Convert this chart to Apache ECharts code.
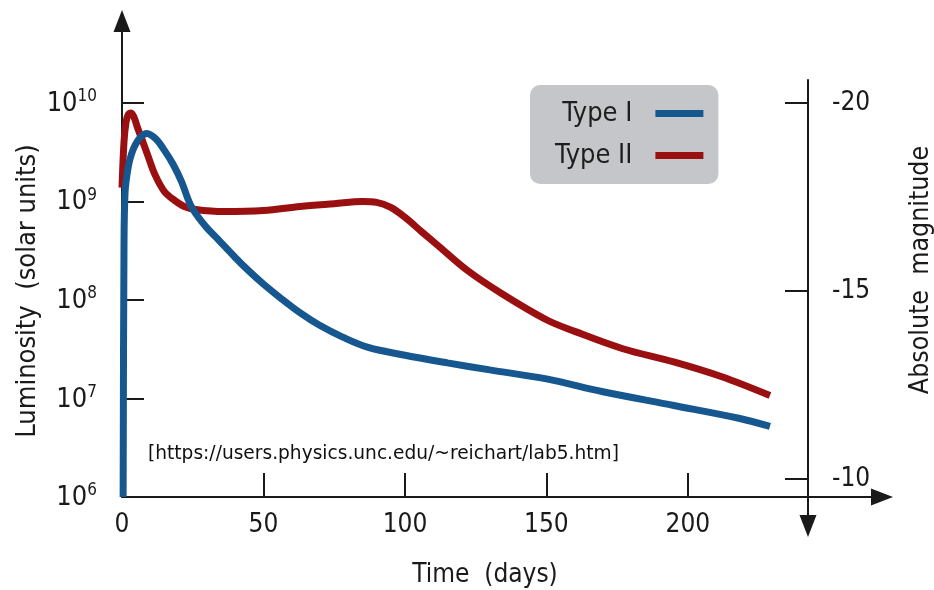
<!DOCTYPE html>
<html><head><meta charset="utf-8">
<script src="https://cdn.jsdelivr.net/npm/echarts@6/dist/echarts.min.js"></script>
<style>html,body{margin:0;padding:0;background:#fff}#c{width:934px;height:590px}</style>
</head><body><div id="c"></div><script>
// ---- data ----
const seriesNames = ['Type I', 'Type II'];
const typeIDays = [0.4, 0.7, 1.1, 2.2, 3.3, 4.6, 6.5, 8.8, 12, 15, 18, 21, 24, 27, 30, 33, 40, 45, 50, 56, 63, 70, 78, 87, 100, 115, 130, 150, 170, 195, 218, 229];
const typeILum = [1.0e6, 3.2e8, 1.26e9, 2.24e9, 3.0e9, 3.7e9, 4.5e9, 4.9e9, 4.3e9, 3.3e9, 2.4e9, 1.6e9, 9.5e8, 6.9e8, 5.4e8, 4.4e8, 2.7e8, 1.95e8, 1.45e8, 1.05e8, 7.4e7, 5.5e7, 4.2e7, 3.3e7, 2.75e7, 2.3e7, 1.95e7, 1.58e7, 1.17e7, 8.5e6, 6.3e6, 5.2e6];
const typeIIDays = [0, 0.7, 1.4, 2.2, 3.2, 4.3, 5.5, 7, 9, 11.7, 15, 18.7, 22, 26, 36, 50, 63, 75, 85, 90, 95, 100, 106, 112, 122, 134, 150, 160, 177, 195, 212, 229];
const typeIILum = [1.38e9, 4.0e9, 6.3e9, 7.6e9, 7.9e9, 7.1e9, 5.6e9, 4.3e9, 3.0e9, 1.86e9, 1.26e9, 1.02e9, 8.9e8, 8.3e8, 7.9e8, 8.1e8, 8.9e8, 9.5e8, 1.0e9, 9.8e8, 8.7e8, 6.9e8, 4.9e8, 3.5e8, 2.0e8, 1.17e8, 6.3e7, 4.8e7, 3.2e7, 2.35e7, 1.66e7, 1.07e7];
const timeTicks = [0, 50, 100, 150, 200];
const timeTickMarks = [50, 100, 150, 200];
const lumTicks = [1e6, 1e7, 1e8, 1e9, 1e10];
const magTicks = [-20, -15, -10];
const sourceText = '[https://users.physics.unc.edu/~reichart/lab5.htm]';

// ---- chart ----
const FONT = "'DejaVu Sans Condensed','DejaVu Sans',sans-serif";
const INK = '#1a1a1a';
const BLUE = '#17578f';
const RED = '#9a0f10';
const pair = (xs, ys) => xs.map((x, i) => [x, ys[i]]);
const chart = echarts.init(document.getElementById('c'));
const axisLineEnd = { onZero: false, symbol: ['none', 'triangle'], symbolSize: [17, 22], lineStyle: { color: INK, width: 2 } };
const axisLineStart = { onZero: false, symbol: ['triangle', 'none'], symbolSize: [17, 22], lineStyle: { color: INK, width: 2 } };

chart.setOption({
  animation: false,
  backgroundColor: '#fff',
  grid: [
    { left: 122, right: 52, top: 21, bottom: 93 },
    { left: 700, right: 126, top: 80, bottom: 64 }
  ],
  title: {
    text: sourceText, left: 148, top: 445, padding: 0,
    textStyle: { fontFamily: "'DejaVu Sans',sans-serif", fontSize: 18.6, fontWeight: 'normal', color: '#111' }
  },
  legend: {
    data: seriesNames, left: 530, top: 85, orient: 'vertical', align: 'right',
    backgroundColor: '#c5c6ca', borderRadius: 10, padding: [15, 15, 15, 25], itemGap: 15,
    icon: 'rect', itemWidth: 48, itemHeight: 7,
    textStyle: { fontFamily: FONT, fontSize: 27, color: '#1e1e1e', width: 101, align: 'right', padding: [0, 18, 0, 0] }
  },
  xAxis: [
    {
      type: 'value', gridIndex: 0, min: 0, max: 268.6,
      axisLine: axisLineEnd,
      axisTick: { inside: true, length: 24, customValues: timeTickMarks, lineStyle: { color: INK, width: 2 } },
      axisLabel: { customValues: timeTicks, margin: 15, fontFamily: FONT, fontSize: 26, color: INK },
      splitLine: { show: false }
    },
    { type: 'value', gridIndex: 1, show: false, min: 0, max: 1 }
  ],
  yAxis: [
    {
      type: 'log', logBase: 10, gridIndex: 0, min: 1e6, max: 6.79e10,
      axisLine: axisLineEnd,
      axisTick: { inside: true, length: 22, customValues: lumTicks, lineStyle: { color: INK, width: 2 } },
      axisLabel: {
        customValues: lumTicks, margin: 25, color: INK,
        formatter: v => '{b|10}{s|' + Math.round(Math.log10(v)) + '}',
        rich: {
          b: { fontFamily: FONT, fontSize: 27, color: INK, verticalAlign: 'bottom' },
          s: { fontFamily: FONT, fontSize: 17, color: INK, padding: [0, 0, 12, 0] }
        }
      },
      splitLine: { show: false }
    },
    {
      type: 'value', gridIndex: 1, position: 'right', inverse: true, min: -20.61, max: -8.75,
      axisLine: axisLineStart,
      axisTick: { inside: true, length: 23, customValues: magTicks, lineStyle: { color: INK, width: 2 } },
      axisLabel: { customValues: magTicks, margin: 24, fontFamily: FONT, fontSize: 26, color: INK },
      splitLine: { show: false }
    }
  ],
  graphic: [
    { type: 'text', x: 485, y: 575, style: { text: 'Time  (days)', font: "26px " + FONT, fill: INK, align: 'center', verticalAlign: 'middle' } },
    { type: 'text', x: 28, y: 291, rotation: Math.PI / 2, style: { text: 'Luminosity  (solar units)', font: "27px " + FONT, fill: INK, align: 'center', verticalAlign: 'middle' } },
    { type: 'text', x: 921, y: 270, rotation: Math.PI / 2, style: { text: 'Absolute  magnitude', font: "26.5px " + FONT, fill: INK, align: 'center', verticalAlign: 'middle' } }
  ],
  series: [
    {
      name: seriesNames[0], type: 'line', xAxisIndex: 0, yAxisIndex: 0,
      data: pair(typeIDays, typeILum), showSymbol: false, smooth: 0.35,
      lineStyle: { color: BLUE, width: 7 }, itemStyle: { color: BLUE }, z: 3
    },
    {
      name: seriesNames[1], type: 'line', xAxisIndex: 0, yAxisIndex: 0,
      data: pair(typeIIDays, typeIILum), showSymbol: false, smooth: 0.35,
      lineStyle: { color: RED, width: 7 }, itemStyle: { color: RED }, z: 2
    }
  ]
});
</script></body></html>
